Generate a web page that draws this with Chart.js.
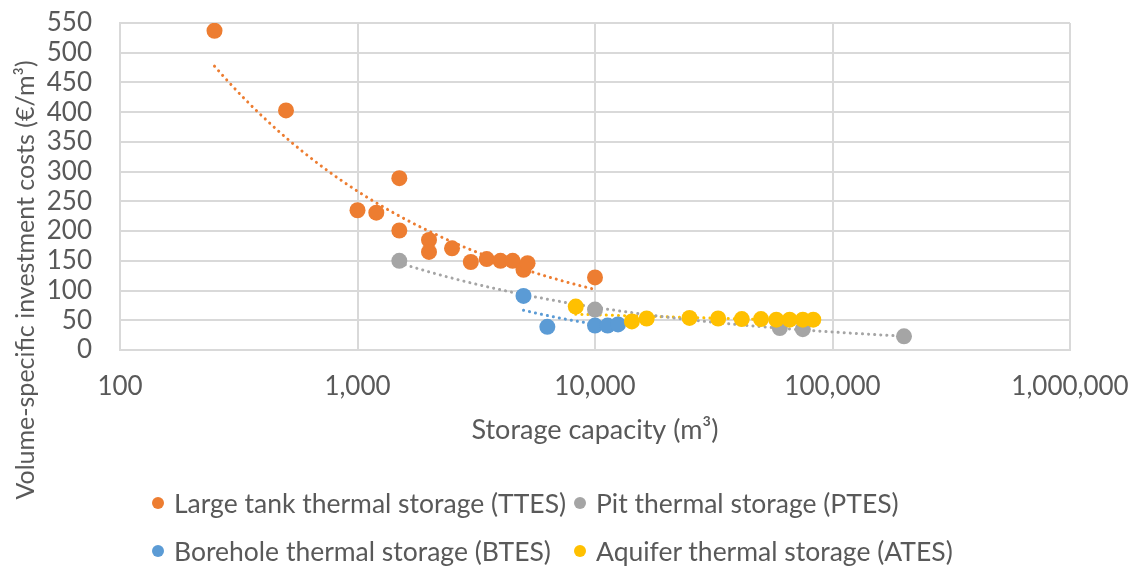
<!DOCTYPE html>
<html>
<head>
<meta charset="utf-8">
<script src="https://cdn.jsdelivr.net/npm/chart.js@4"></script>
<style>
  body { margin: 0; background: #fff; }
  #wrap { position: relative; width: 1134px; height: 566px; overflow: hidden; }
  #legend { position: absolute; left: 152px; top: 485px; display: grid;
    grid-template-columns: 422px auto; row-gap: 12px;
    font-family: Lato, sans-serif; font-size: 26.5px; color: #595959; }
  #legend div { display: flex; align-items: center; height: 36px; white-space: nowrap; }
  #legend span.dot { width: 12px; height: 12px; border-radius: 50%; margin-right: 10px; display: inline-block; }
</style>
</head>
<body>
<div id="wrap">
  <canvas id="storageChart"></canvas>
  <div id="legend"></div>
</div>
<script>
// axis ticks
const xTicks = [100, 1000, 10000, 100000, 1000000];
const yMax = 550;
const yStep = 50;

// Large tank thermal storage (TTES)
const ttesX = [250, 500, 1000, 1200, 1500, 1500, 2000, 2000, 2500, 3000, 3500, 4000, 4500, 5000, 5200, 10000];
const ttesY = [537, 403, 235, 231, 289, 201, 185, 165, 171, 148, 153, 150, 150, 135, 146, 122];
// Pit thermal storage (PTES)
const ptesX = [1500, 10000, 60000, 75000, 200000];
const ptesY = [150, 68, 37, 35, 23];
// Borehole thermal storage (BTES)
const btesX = [5000, 6300, 10000, 11300, 12500];
const btesY = [91, 39, 41, 41, 43];
// Aquifer thermal storage (ATES)
const atesX = [8300, 14300, 16500, 25000, 33000, 41500, 50000, 58000, 66000, 75000, 83000];
const atesY = [73, 48, 53, 54, 53, 52, 52, 51, 51, 51, 51];

const labels = [
  "Large tank thermal storage (TTES)",
  "Pit thermal storage (PTES)",
  "Borehole thermal storage (BTES)",
  "Aquifer thermal storage (ATES)"
];
const colors = ["#ED7D31", "#A5A5A5", "#5B9BD5", "#FFC000"];

function toPoints(xs, ys) {
  return xs.map((x, i) => ({ x: x, y: ys[i] }));
}

// power trendline (y = a*x^b), least squares on ln-ln, like Excel
function powerTrend(xs, ys) {
  const lx = xs.map(Math.log), ly = ys.map(Math.log);
  const n = xs.length;
  const mx = lx.reduce((a, b) => a + b) / n, my = ly.reduce((a, b) => a + b) / n;
  let sxy = 0, sxx = 0;
  for (let i = 0; i < n; i++) {
    sxy += (lx[i] - mx) * (ly[i] - my);
    sxx += (lx[i] - mx) * (lx[i] - mx);
  }
  const b = sxy / sxx, a = Math.exp(my - b * mx);
  const lo = Math.min(...lx), hi = Math.max(...lx);
  const pts = [];
  for (let k = 0; k <= 40; k++) {
    const x = Math.exp(lo + (hi - lo) * k / 40);
    pts.push({ x: x, y: a * Math.pow(x, b) });
  }
  return pts;
}

const seriesX = [ttesX, ptesX, btesX, atesX];
const seriesY = [ttesY, ptesY, btesY, atesY];

const datasets = [];
labels.forEach((label, i) => {
  datasets.push({
    label: label,
    data: toPoints(seriesX[i], seriesY[i]),
    backgroundColor: colors[i],
    borderWidth: 0,
    pointRadius: 8,
    pointHoverRadius: 8,
    order: 4 - i
  });
});
labels.forEach((label, i) => {
  datasets.push({
    label: label + " trend",
    data: powerTrend(seriesX[i], seriesY[i]),
    showLine: true,
    borderColor: colors[i],
    borderWidth: 3,
    borderDash: [0.1, 6],
    borderCapStyle: "round",
    pointRadius: 0,
    fill: false,
    order: 10,
    isTrend: true
  });
});

// y axis title is drawn by hand so it can sit off-centre like the original
const yTitle = {
  id: "yTitle",
  afterDraw(chart) {
    const ctx = chart.ctx;
    ctx.save();
    ctx.translate(26, 280);
    ctx.rotate(-Math.PI / 2);
    ctx.font = "25px Lato";
    ctx.fillStyle = "#595959";
    ctx.textAlign = "center";
    ctx.textBaseline = "middle";
    ctx.fillText("Volume-specific investment costs (€/m³)", 0, 0);
    ctx.restore();
  }
};

// tick gaps come from invisible tick marks, so the label padding
// does not push the plot area in
const chart = new Chart(document.getElementById("storageChart"), {
  type: "scatter",
  data: { datasets: datasets },
  plugins: [yTitle],
  options: {
    responsive: true,
    maintainAspectRatio: false,
    animation: false,
    layout: { padding: { left: 0, right: 64, top: 23, bottom: 116 } },
    plugins: { legend: { display: false }, tooltip: { enabled: false } },
    scales: {
      x: {
        type: "logarithmic",
        min: 100,
        max: 1000000,
        afterBuildTicks: (s) => { s.ticks = xTicks.map(v => ({ value: v })); },
        afterFit: (s) => { s.height = 100; },
        ticks: {
          callback: (v) => Number(v).toLocaleString("en-US"),
          font: { family: "Lato", size: 26 },
          color: "#595959",
          padding: 0,
          maxRotation: 0
        },
        grid: { color: "#d9d9d9", lineWidth: 2, drawTicks: true, tickLength: 21, tickColor: "rgba(0,0,0,0)" },
        border: { color: "#d9d9d9", width: 2 },
        title: {
          display: true,
          text: "Storage capacity (m³)",
          font: { family: "Lato", size: 27 },
          color: "#595959",
          padding: { top: 4, bottom: 4 }
        }
      },
      y: {
        min: 0,
        max: yMax,
        afterFit: (s) => { s.width = 120; },
        ticks: {
          stepSize: yStep,
          autoSkip: false,
          font: { family: "Lato", size: 26 },
          color: "#595959",
          padding: 0
        },
        grid: { color: "#d9d9d9", lineWidth: 2, drawTicks: true, tickLength: 28, tickColor: "rgba(0,0,0,0)" },
        border: { color: "#d9d9d9", width: 2 }
      }
    }
  }
});

// legend laid out as a two-column grid, like the original
const legend = document.getElementById("legend");
chart.data.datasets.filter(d => !d.isTrend).forEach(d => {
  const item = document.createElement("div");
  item.innerHTML = '<span class="dot" style="background:' + d.backgroundColor + '"></span>' + d.label;
  legend.appendChild(item);
});
</script>
</body>
</html>
